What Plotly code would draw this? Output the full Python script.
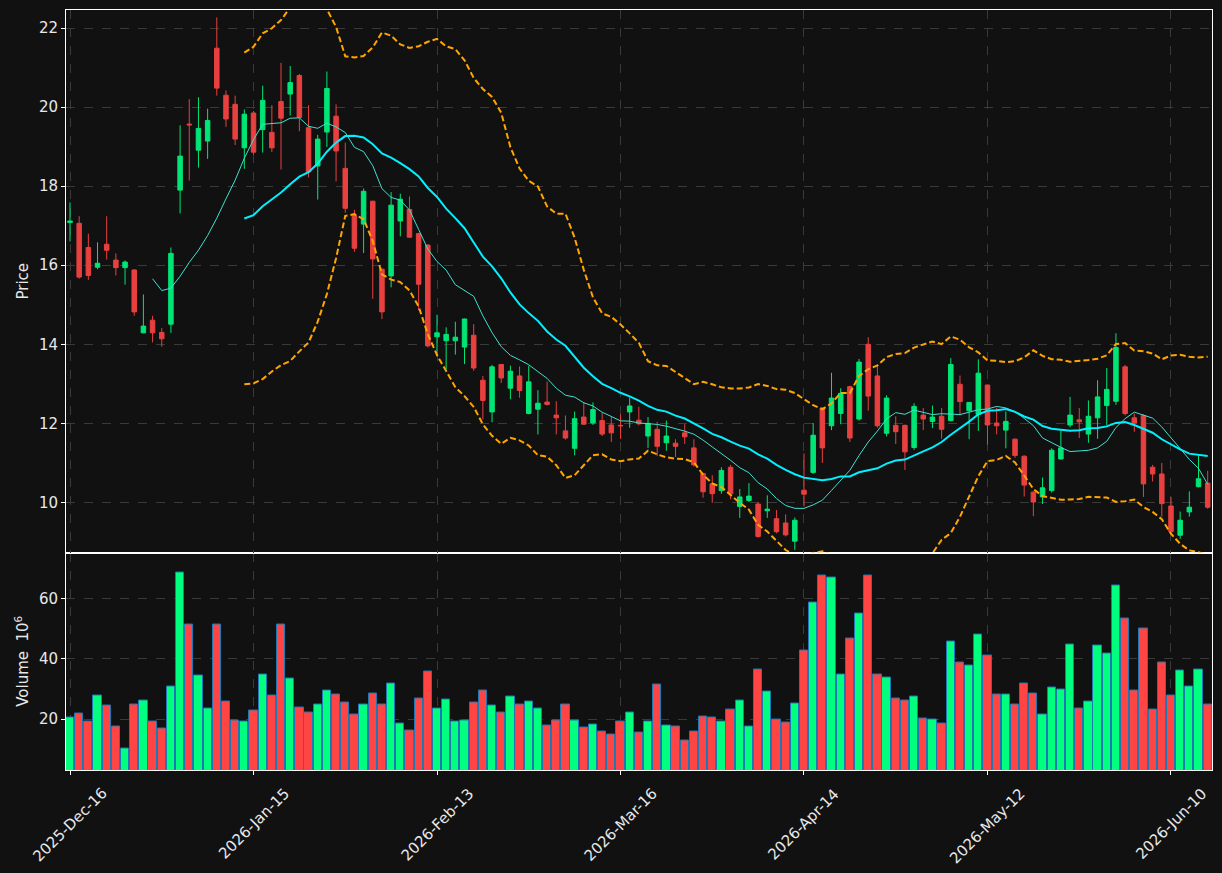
import pandas as pd
import plotly.graph_objects as go

# ---- data -------------------------------------------------------------
start_date = "2025-12-16"
holidays = ["2025-12-25", "2026-01-01", "2026-01-19", "2026-02-16", "2026-04-03", "2026-05-25"]
n_days = 125

opens = [17.08, 17.06, 16.45, 15.95, 16.53, 16.13, 15.94, 15.88, 14.29, 14.61,
         14.30, 14.51, 17.90, 19.57, 18.91, 19.14, 21.49, 20.30, 20.07, 18.97,
         19.85, 19.43, 19.36, 20.14, 20.33, 20.80, 19.48, 18.51, 19.37, 19.77,
         18.45, 17.26, 17.04, 17.62, 15.90, 15.73, 17.12, 17.41, 16.80, 16.51,
         14.19, 14.09, 14.09, 13.93, 14.23, 13.09, 12.29, 13.49, 12.89, 13.20,
         12.25, 12.36, 12.54, 12.21, 11.81, 11.37, 12.16, 12.01, 12.07, 11.96,
         11.95, 12.29, 12.08, 11.68, 11.85, 11.51, 11.50, 11.76, 11.38, 10.73,
         10.47, 10.30, 10.89, 9.90, 10.05, 9.96, 9.79, 9.59, 9.48, 9.02,
         10.31, 10.76, 12.39, 11.94, 12.25, 12.93, 12.11, 14.00, 13.20, 11.75,
         11.95, 11.95, 11.39, 12.21, 12.05, 12.18, 12.07, 12.99, 12.32, 12.23,
         12.97, 12.01, 11.83, 11.60, 11.17, 10.26, 10.14, 10.30, 11.10, 11.96,
         12.09, 11.73, 12.14, 12.45, 12.56, 13.43, 12.14, 12.20, 10.89, 10.72,
         9.91, 9.17, 9.76, 10.40, 10.49]
highs = [17.59, 17.24, 16.80, 16.58, 17.24, 16.30, 16.12, 15.90, 15.26, 14.72,
         14.41, 16.45, 19.54, 20.20, 20.25, 19.96, 22.27, 20.42, 20.29, 19.94,
         19.90, 20.54, 20.05, 21.12, 21.04, 20.84, 20.05, 19.30, 20.90, 20.07,
         19.10, 17.40, 17.94, 17.63, 15.92, 17.85, 17.81, 17.74, 16.82, 16.53,
         14.75, 14.43, 14.57, 14.65, 14.51, 13.20, 13.48, 13.50, 13.46, 13.44,
         13.46, 12.84, 13.06, 12.56, 12.20, 12.30, 12.54, 12.53, 12.27, 12.18,
         12.23, 12.65, 12.42, 12.16, 12.04, 12.07, 11.60, 11.98, 11.60, 10.75,
         10.69, 10.89, 10.95, 10.34, 10.49, 10.01, 10.18, 9.81, 9.70, 9.62,
         11.24, 12.01, 12.40, 13.28, 12.89, 12.95, 13.63, 14.18, 13.46, 12.71,
         12.18, 11.97, 12.51, 12.39, 12.45, 12.39, 13.65, 13.21, 12.54, 13.62,
         12.98, 12.40, 12.30, 11.62, 11.19, 10.28, 10.63, 11.37, 11.81, 12.67,
         12.39, 12.58, 13.09, 13.40, 14.28, 13.48, 12.25, 12.23, 10.95, 11.00,
         10.14, 9.77, 10.28, 11.20, 10.80]
lows = [16.60, 15.66, 15.63, 15.90, 16.14, 15.74, 15.51, 14.72, 14.28, 14.05,
        13.94, 14.29, 17.31, 18.14, 18.47, 18.69, 20.29, 19.50, 19.04, 18.44,
        18.80, 18.85, 18.86, 18.42, 19.79, 19.39, 18.22, 17.66, 18.99, 18.12,
        17.33, 16.34, 16.31, 15.15, 14.64, 15.44, 16.73, 16.69, 14.86, 13.92,
        13.72, 13.37, 13.74, 13.50, 13.33, 12.10, 12.03, 13.02, 12.61, 12.65,
        12.23, 11.72, 12.45, 11.72, 11.59, 11.19, 11.96, 11.96, 11.68, 11.53,
        11.61, 11.89, 11.95, 11.38, 11.17, 11.31, 11.15, 11.48, 10.91, 10.12,
        9.99, 10.22, 10.08, 9.61, 10.01, 9.11, 9.61, 9.22, 9.14, 8.80,
        9.90, 10.72, 11.00, 11.83, 11.98, 11.53, 12.07, 12.32, 11.89, 11.67,
        11.48, 10.82, 11.33, 11.83, 11.88, 11.61, 12.05, 12.20, 11.60, 11.81,
        11.46, 11.72, 11.37, 11.13, 10.15, 9.65, 9.96, 10.25, 11.09, 11.90,
        11.63, 11.51, 11.61, 11.96, 12.47, 12.20, 11.79, 10.14, 10.53, 9.64,
        9.24, 9.08, 9.64, 10.38, 9.84]
closes = [17.12, 15.70, 15.74, 16.05, 16.38, 15.94, 16.08, 14.82, 14.46, 14.29,
          14.14, 16.30, 18.76, 19.55, 19.46, 19.66, 20.48, 19.70, 19.19, 19.82,
          18.86, 20.17, 18.97, 19.72, 20.62, 19.74, 18.36, 19.19, 20.47, 18.89,
          17.44, 16.43, 17.87, 16.16, 14.82, 17.52, 17.67, 16.71, 15.52, 13.96,
          14.29, 14.25, 14.18, 14.64, 13.40, 12.58, 13.43, 13.15, 13.32, 12.83,
          13.05, 12.51, 12.48, 12.14, 11.63, 12.12, 11.98, 12.35, 11.73, 11.76,
          11.94, 12.44, 11.99, 12.00, 11.42, 11.68, 11.42, 11.66, 10.95, 10.27,
          10.22, 10.81, 10.22, 10.14, 10.16, 9.14, 9.83, 9.26, 9.18, 9.55,
          10.21, 11.70, 11.38, 12.64, 12.76, 11.63, 13.55, 12.69, 11.94, 12.64,
          11.79, 11.28, 12.43, 12.11, 12.16, 11.85, 13.49, 12.55, 12.53, 13.27,
          11.96, 11.94, 12.05, 11.19, 10.44, 10.01, 10.37, 11.32, 11.38, 12.21,
          12.04, 12.18, 12.67, 12.86, 13.92, 12.25, 12.01, 10.47, 10.72, 9.97,
          9.26, 9.55, 9.88, 10.60, 9.88]
volumes = [20.67, 22.0, 19.33, 28.0, 24.67, 17.67, 10.33, 25.0, 26.33, 19.33,
           17.0, 31.0, 68.67, 51.33, 34.67, 23.67, 51.33, 26.0, 19.67, 19.33,
           23.0, 35.0, 28.0, 51.33, 33.67, 24.0, 22.33, 25.0, 29.67, 28.33,
           25.67, 21.67, 25.0, 28.67, 25.0, 32.0, 18.67, 16.33, 27.0, 36.0,
           23.67, 26.67, 19.33, 19.67, 25.67, 29.67, 24.67, 22.33, 27.67, 25.0,
           26.0, 23.67, 18.0, 19.67, 25.0, 19.67, 17.33, 18.33, 16.0, 15.0,
           19.33, 22.33, 15.67, 19.33, 31.67, 18.0, 17.67, 13.0, 16.0, 21.0,
           20.67, 19.33, 23.33, 26.33, 17.67, 36.67, 29.33, 20.0, 19.0, 25.33,
           42.67, 58.67, 67.67, 67.0, 35.0, 46.67, 55.0, 67.67, 35.0, 34.0,
           27.0, 26.33, 27.67, 20.33, 20.0, 18.67, 45.67, 39.0, 38.0, 48.0,
           41.0, 28.33, 28.33, 25.0, 32.0, 28.67, 21.67, 30.67, 30.0, 44.67,
           23.67, 26.0, 44.33, 41.67, 64.33, 53.33, 29.67, 50.0, 23.33, 39.0,
           28.0, 36.33, 31.0, 36.67, 25.0]
tick_every = 20

# ---- derived ----------------------------------------------------------
dates = pd.bdate_range(start=start_date, periods=n_days, freq="C", holidays=holidays)
idx = list(range(n_days))
close_s = pd.Series(closes)
ma10 = close_s.rolling(10).mean()
ma20 = close_s.rolling(20).mean()
sd20 = close_s.rolling(20).std(ddof=0)
bb_up = ma20 + 2 * sd20
bb_lo = ma20 - 2 * sd20

tickvals = idx[::tick_every]
ticktext = [dates[i].strftime("%Y-%b-%d") for i in tickvals]

UP_C = "#00E676"
DN_C = "#E8403F"
VUP_C = "#00FF7F"
VDN_C = "#FF4444"
vol_colors = [VUP_C if c >= o else VDN_C for o, c in zip(opens, closes)]

BG = "#111111"
GRID = "#3a3a3a"
FONT = dict(family="DejaVu Sans", size=15, color="#e8e8e8")

fig = go.Figure()
fig.add_trace(go.Candlestick(
    x=idx, open=opens, high=highs, low=lows, close=closes,
    increasing=dict(line=dict(color=UP_C, width=1), fillcolor=UP_C),
    decreasing=dict(line=dict(color=DN_C, width=1), fillcolor=DN_C),
    whiskerwidth=0, xaxis="x2", yaxis="y2", showlegend=False, hoverinfo="skip"))
fig.add_trace(go.Scatter(x=idx, y=ma10, mode="lines", line=dict(color="#40E0D0", width=1),
                         xaxis="x2", yaxis="y2", showlegend=False, hoverinfo="skip"))
fig.add_trace(go.Scatter(x=idx, y=ma20, mode="lines", line=dict(color="#00F0FF", width=2),
                         xaxis="x2", yaxis="y2", showlegend=False, hoverinfo="skip"))
for band in (bb_up, bb_lo):
    fig.add_trace(go.Scatter(x=idx, y=band, mode="lines",
                             line=dict(color="#FFA500", width=2, dash="6px,3px"),
                             xaxis="x2", yaxis="y2", showlegend=False, hoverinfo="skip"))
fig.add_trace(go.Bar(x=idx, y=volumes, width=0.9, marker=dict(color=vol_colors,
                     line=dict(color="#1f77b4", width=1)),
                     xaxis="x", yaxis="y", showlegend=False, hoverinfo="skip"))

# date labels centred under their ticks, rotated 45 degrees
for tv, tt in zip(tickvals, ticktext):
    fig.add_annotation(x=tv, y=0, xref="x", yref="paper", text=tt, textangle=-45,
                       xanchor="center", yanchor="top", yshift=-12, showarrow=False,
                       font=FONT)

split = (770 - 552.5) / 760
xr = [-0.436, 124.47]
axis_common = dict(showgrid=True, gridcolor=GRID, griddash="dash", gridwidth=1,
                   showline=True, mirror=True, linecolor="white", linewidth=1,
                   zeroline=False, tickfont=FONT, tickcolor="white")

fig.update_layout(
    width=1222, height=873,
    paper_bgcolor=BG, plot_bgcolor=BG,
    margin=dict(l=66, r=10, t=10, b=103),
    font=FONT, showlegend=False, bargap=0,
    xaxis=dict(domain=[0, 1], anchor="y", range=xr, tickvals=tickvals,
               showticklabels=False, ticks="outside", ticklen=4,
               rangeslider=dict(visible=False), **axis_common),
    xaxis2=dict(domain=[0, 1], anchor="y2", range=xr, matches="x", tickvals=tickvals,
                showticklabels=False, ticks="", rangeslider=dict(visible=False),
                **axis_common),
    yaxis=dict(domain=[0, split], anchor="x", range=[3.1, 75.4], tickvals=[20, 40, 60],
               ticks="outside", ticklen=4,
               title=dict(text="Volume  10<sup>6</sup>", font=FONT, standoff=6),
               **axis_common),
    yaxis2=dict(domain=[split, 1], anchor="x2", range=[8.734, 22.456], dtick=2, tick0=0,
                ticks="outside", ticklen=4,
                title=dict(text="Price", font=FONT, standoff=6), **axis_common),
)

fig.write_html("out.html")
